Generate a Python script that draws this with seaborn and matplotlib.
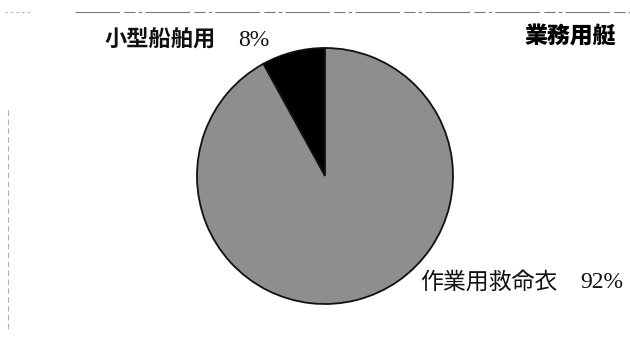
import matplotlib
matplotlib.use("Agg")
import matplotlib.pyplot as plt
import seaborn as sns

categories = ["小型船舶用", "作業用救命衣"]
values = [8, 92]
pct_labels = ["8%", "92%"]
title = "業務用艇"
colors = ["#000000", "#8e8e8e"]

sns.set_theme(style="white")
plt.rcParams['font.family'] = ['Noto Sans CJK JP', 'DejaVu Sans']

W, H = 630, 339
fig = plt.figure(figsize=(W / 100, H / 100), dpi=100)
ax = fig.add_axes([0, 0, 1, 1])

ax.pie(values, colors=colors, startangle=90, counterclock=True,
       center=(325, H - 176), radius=128, frame=True,
       wedgeprops=dict(edgecolor="#111111", linewidth=1.3))
ax.set_xlim(0, W)
ax.set_ylim(0, H)
ax.set_aspect("equal")
ax.axis("off")

# faint scan border lines
ax.plot([75, 630], [H - 12, H - 12], color="#777777", lw=0.8, ls=(0, (40, 4, 10, 3, 3, 3)))
ax.plot([5, 30], [H - 12, H - 12], color="#aaaaaa", lw=0.8, ls=(0, (2, 3)))
ax.plot([8, 8], [H - 110, H - 330], color="#b0b0b0", lw=0.8, ls=(0, (5, 3)))

def px(x, y):
    return x / W, 1 - y / H

fig.text(*px(105, 40), categories[0], fontsize=16, fontweight="bold",
         ha="left", va="center", color="#111111")
fig.text(*px(238, 40), pct_labels[0], fontsize=17, family="Liberation Serif",
         ha="left", va="center", color="#111111")
fig.text(*px(616, 37), title, fontsize=16.5, fontweight="heavy",
         ha="right", va="center", color="#000000")
fig.text(*px(420, 282), categories[1], fontsize=16.5,
         ha="left", va="center", color="#111111")
fig.text(*px(580, 282), pct_labels[1], fontsize=17, family="Liberation Serif",
         ha="left", va="center", color="#111111")

fig.savefig("out.png", dpi=100, facecolor="white")
